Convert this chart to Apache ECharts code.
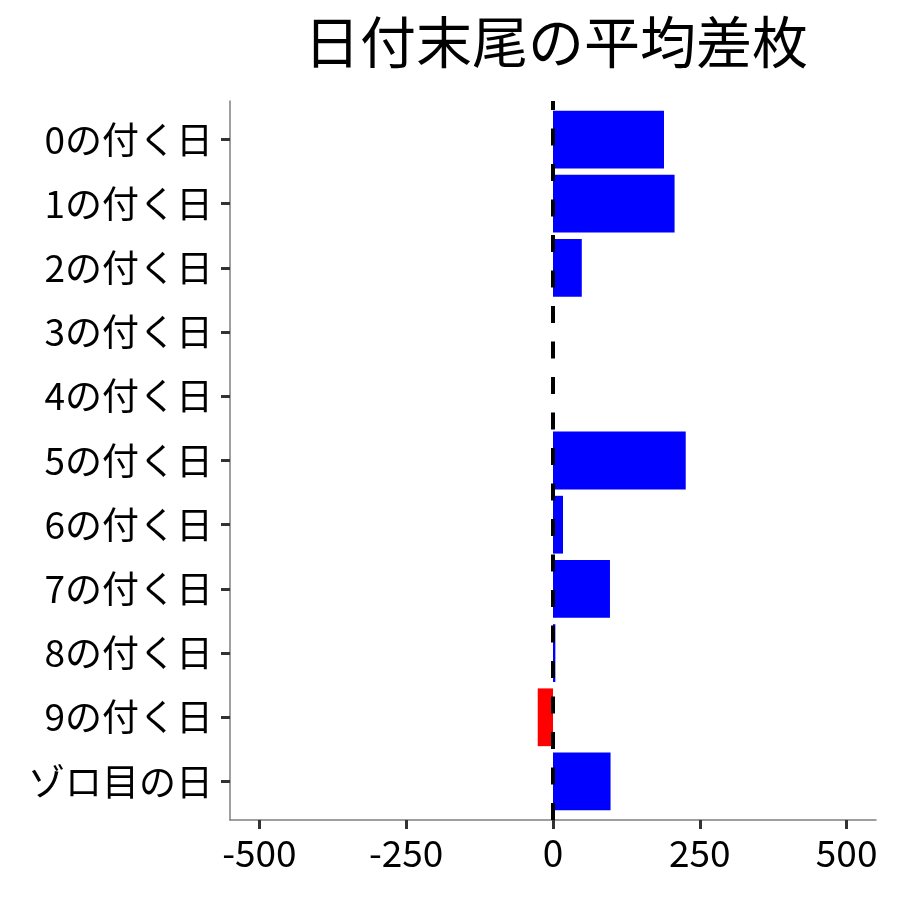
<!DOCTYPE html>
<html><head><meta charset="utf-8">
<script src="https://cdn.jsdelivr.net/npm/echarts@6/dist/echarts.min.js"></script>
<style>html,body{margin:0;padding:0;background:#fff}#c{width:900px;height:900px}</style>
</head><body><div id="c"></div>
<script>
const categories = ['0の付く日','1の付く日','2の付く日','3の付く日','4の付く日','5の付く日','6の付く日','7の付く日','8の付く日','9の付く日','ゾロ目の日'];
const values = [189, 207, 49, 0, 0, 226, 17, 97, 4, -26, 98];
const xTicks = [-500, -250, 0, 250, 500];
const titleText = '日付末尾の平均差枚';

const FONT = '"Noto Sans CJK JP", "Noto Sans", sans-serif';
const panelTop = 101, panelBottom = 820, left = 230, right = 876;
const band = (panelBottom - panelTop) / (categories.length + 0.2);
const chart = echarts.init(document.getElementById('c'));
chart.setOption({
  backgroundColor: '#fff',
  animation: false,
  title: {
    text: titleText, left: 551, top: 9, textAlign: 'center',
    textStyle: { fontFamily: FONT, fontSize: 56, fontWeight: 'normal', color: '#000' }
  },
  grid: [
    { left: left, right: 900 - right, top: panelTop, bottom: 900 - panelBottom },
    { left: left, right: 900 - right, top: panelTop + 0.1 * band, bottom: 900 - panelBottom + 0.1 * band }
  ],
  xAxis: [
    { type: 'value', gridIndex: 0, min: -550, max: 550,
      axisLine: { show: true, onZero: false, lineStyle: { color: '#7f7f7f', width: 1.5 } },
      axisTick: { show: true, length: 9, lineStyle: { color: '#333', width: 3 }, customValues: xTicks },
      axisLabel: { show: true, customValues: xTicks, margin: 14, fontFamily: FONT, fontSize: 37, color: '#000' },
      splitLine: { show: false } },
    { type: 'value', gridIndex: 1, min: -550, max: 550, show: false }
  ],
  yAxis: [
    { type: 'value', gridIndex: 0, min: 0, max: 1,
      axisLine: { show: true, onZero: false, lineStyle: { color: '#7f7f7f', width: 1.5 } },
      axisTick: { show: false }, axisLabel: { show: false }, splitLine: { show: false } },
    { type: 'category', gridIndex: 1, data: categories, inverse: true,
      axisLine: { show: false, onZero: false },
      axisTick: { show: true, alignWithLabel: true, length: 9, lineStyle: { color: '#333', width: 3 } },
      axisLabel: { margin: 17, fontFamily: FONT, fontSize: 37, color: '#000' },
      splitLine: { show: false } }
  ],
  series: [
    { type: 'bar', xAxisIndex: 1, yAxisIndex: 1, barCategoryGap: '10%',
      data: values.map(v => ({ value: v, itemStyle: { color: v >= 0 ? '#0000FF' : '#FF0000' } })),
      z: 2 },
    { type: 'line', xAxisIndex: 0, yAxisIndex: 0, data: [], z: 5,
      markLine: { silent: true, symbol: 'none', label: { show: false },
        lineStyle: { color: '#000', type: [17, 18.5], width: 4 },
        data: [{ xAxis: 0 }] } }
  ]
});
</script></body></html>
